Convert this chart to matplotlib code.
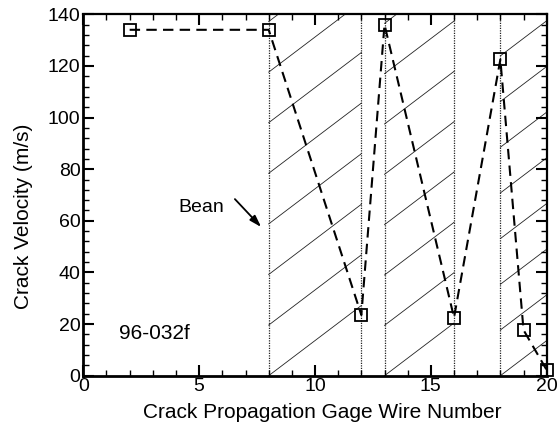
import matplotlib
matplotlib.use("Agg")
import matplotlib.pyplot as plt
import numpy as np

plt.rcParams['font.family'] = ['Liberation Sans', 'DejaVu Sans']

# Data
wire_number = [2, 8, 12, 13, 16, 18, 19, 20]
crack_velocity = [134, 134, 23.5, 136, 22.5, 122.5, 17.7, 2.2]

# Hatched zones (start, end) and their hatch spacing (m/s)
zone_start = [8, 13, 18]
zone_end = [12, 16, 20]
zone_spacing = [19.6, 19.5, 17.7]
hatch_slope = 6.8  # m/s per wire
boundary_lines = [8, 12, 13, 16, 18]

xlim = (0, 20)
ylim = (0, 140)
xticks = [0, 5, 10, 15, 20]
yticks = [0, 20, 40, 60, 80, 100, 120, 140]

fig = plt.figure(figsize=(5.57, 4.30), dpi=100)
ax = fig.add_axes([0.1496, 0.1263, 0.8319, 0.8404])

# hatch lines
for x0, x1, sp in zip(zone_start, zone_end, zone_spacing):
    for h in np.arange(0, ylim[1], sp):
        ax.plot([x0, x1], [h, h + hatch_slope * (x1 - x0)], color='#222222', lw=0.6, zorder=1)

for xb in boundary_lines:
    ax.axvline(xb, color='#222222', lw=0.9, ls=(0, (1, 1)), zorder=1)

ax.plot(wire_number, crack_velocity, color='black', lw=1.5, ls=(0, (5, 3)),
        marker='s', markersize=8.5, markerfacecolor='none', markeredgecolor='black',
        markeredgewidth=1.3, clip_on=False, zorder=3)

ax.set_xlim(*xlim)
ax.set_ylim(*ylim)
ax.set_xticks(xticks)
ax.set_yticks(yticks)
ax.set_xticks(np.arange(0, 20.01, 1), minor=True)
ax.set_yticks(np.arange(0, 140.01, 4), minor=True)

ax.tick_params(which='both', direction='in', top=True, right=True)
ax.tick_params(which='major', length=8, width=1.5, labelsize=14, pad=2)
ax.tick_params(which='minor', length=4, width=1.0)

for side in ['left', 'bottom']:
    ax.spines[side].set_linewidth(2.0)
for side in ['top', 'right']:
    ax.spines[side].set_linewidth(1.6)

ax.set_xlabel('Crack Propagation Gage Wire Number', fontsize=15)
ax.set_ylabel('Crack Velocity (m/s)', fontsize=15)
ax.xaxis.set_label_coords(0.516, -0.103)
ax.xaxis.label.set_va('center')
ax.yaxis.set_label_coords(-0.130, 0.442)
ax.yaxis.label.set_va('center')

ax.text(5.09, 65, 'Bean', fontsize=14, ha='center', va='center')
ax.annotate('', xy=(7.76, 56.8), xytext=(6.46, 69.2),
            arrowprops=dict(arrowstyle='-|>,head_length=0.7,head_width=0.22',
                            color='black', lw=1.3))
ax.text(1.54, 16.5, '96-032f', fontsize=15, ha='left', va='center')

fig.savefig('out.png', dpi=100)
